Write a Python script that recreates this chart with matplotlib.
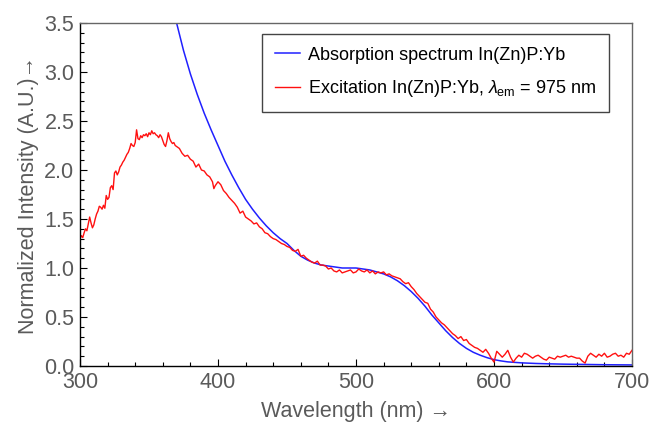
import matplotlib
matplotlib.use("Agg")
import matplotlib.pyplot as plt
from matplotlib.ticker import MultipleLocator, FormatStrFormatter

plt.rcParams['font.family'] = ['Liberation Sans', 'DejaVu Sans']
plt.rcParams['mathtext.fontset'] = 'custom'
plt.rcParams['mathtext.rm'] = 'Liberation Sans'
plt.rcParams['mathtext.it'] = 'Liberation Sans:italic'

# Absorption spectrum (blue)
abs_wl = [365, 370, 375, 380, 385, 390, 395, 400, 405, 410, 415, 420, 425, 430, 435,
          440, 445, 450, 455, 460, 465, 470, 475, 480, 485, 490, 495, 500, 505, 510,
          515, 520, 525, 530, 535, 540, 545, 550, 555, 560, 565, 570, 575, 580, 585,
          590, 595, 600, 605, 610, 620, 630, 640, 650, 660, 670, 680, 690, 700]
abs_val = [3.80, 3.50, 3.22, 2.98, 2.77, 2.58, 2.41, 2.25, 2.09, 1.95, 1.82, 1.70, 1.60, 1.51, 1.43,
           1.36, 1.30, 1.25, 1.18, 1.12, 1.08, 1.05, 1.03, 1.02, 1.01, 1.00, 1.00, 1.00, 0.99, 0.98,
           0.96, 0.94, 0.91, 0.87, 0.82, 0.76, 0.69, 0.61, 0.52, 0.44, 0.36, 0.29, 0.23, 0.18, 0.14,
           0.11, 0.085, 0.065, 0.052, 0.042, 0.032, 0.026, 0.022, 0.019, 0.017, 0.015, 0.013, 0.012, 0.011]

# Excitation spectrum (red)
exc_wl = [300, 301, 302, 303, 304, 305, 306, 307, 308, 309, 310, 311, 312, 313, 314, 315, 316, 317, 318, 319,
          320, 321, 322, 323, 324, 325, 326, 327, 328, 329, 330, 331, 332, 333, 334, 335, 336, 337, 338, 339,
          340, 341, 342, 343, 344, 345, 346, 347, 348, 349, 350, 351, 352, 353, 354, 355, 356, 357, 358, 359,
          360, 361, 362, 363, 364, 365, 366, 367, 368, 369, 370, 372, 374, 376, 378, 380, 382, 384, 386, 388,
          390, 392, 394, 396, 397, 398, 400, 402, 404, 406, 408, 410, 412, 414, 416, 418, 420, 422, 424, 426,
          428, 430, 432, 434, 436, 438, 440, 442, 444, 446, 448, 450, 452, 454, 456, 458, 460, 462, 464, 466,
          468, 470, 472, 474, 476, 478, 480, 482, 484, 486, 488, 490, 492, 494, 496, 498, 500, 502, 504, 506,
          508, 510, 512, 514, 516, 518, 520, 522, 524, 526, 528, 530, 532, 534, 536, 538, 540, 542, 544, 546,
          548, 550, 552, 554, 556, 558, 560, 562, 564, 566, 568, 570, 572, 574, 576, 578, 580, 582, 584, 586,
          588, 590, 592, 594, 596, 598, 600, 602, 604, 606, 608, 610, 612, 614, 616, 618, 620, 622, 624, 626,
          628, 630, 632, 634, 636, 638, 640, 642, 644, 646, 648, 650, 652, 654, 656, 658, 660, 662, 664, 666,
          668, 670, 672, 674, 676, 678, 680, 682, 684, 686, 688, 690, 692, 694, 696, 698, 700]
exc_val = [1.30, 1.33, 1.31, 1.36, 1.40, 1.38, 1.45, 1.52, 1.46, 1.41, 1.44, 1.50, 1.55, 1.58, 1.63, 1.62, 1.60, 1.64, 1.61, 1.74,
           1.70, 1.72, 1.82, 1.84, 1.80, 1.97, 1.99, 1.95, 1.98, 2.03, 2.05, 2.08, 2.10, 2.13, 2.16, 2.18, 2.22, 2.27, 2.25, 2.24,
           2.28, 2.41, 2.32, 2.31, 2.35, 2.33, 2.36, 2.35, 2.37, 2.34, 2.38, 2.36, 2.40, 2.37, 2.38, 2.36, 2.35, 2.33, 2.36, 2.34,
           2.30, 2.26, 2.24, 2.30, 2.38, 2.32, 2.29, 2.27, 2.28, 2.25, 2.24, 2.22, 2.17, 2.14, 2.15, 2.11, 2.09, 2.03, 2.06, 2.00,
           1.99, 1.95, 1.93, 1.88, 1.81, 1.84, 1.88, 1.85, 1.79, 1.76, 1.72, 1.69, 1.66, 1.62, 1.56, 1.58, 1.52, 1.50, 1.48, 1.45,
           1.46, 1.42, 1.40, 1.36, 1.35, 1.32, 1.30, 1.29, 1.27, 1.25, 1.24, 1.22, 1.21, 1.18, 1.17, 1.19, 1.12, 1.13, 1.10, 1.08,
           1.06, 1.05, 1.07, 1.03, 1.03, 1.02, 0.99, 1.00, 0.97, 0.96, 0.98, 0.95, 0.96, 0.97, 0.98, 0.95, 0.96, 0.99, 0.97, 0.96,
           0.98, 0.95, 0.97, 0.94, 0.96, 0.95, 0.96, 0.93, 0.94, 0.92, 0.91, 0.90, 0.89, 0.86, 0.84, 0.85, 0.81, 0.78, 0.74, 0.71,
           0.68, 0.65, 0.64, 0.58, 0.55, 0.50, 0.47, 0.44, 0.42, 0.39, 0.36, 0.33, 0.31, 0.28, 0.30, 0.26, 0.27, 0.23, 0.21, 0.19,
           0.18, 0.16, 0.14, 0.17, 0.13, 0.08, 0.04, 0.15, 0.12, 0.09, 0.12, 0.16, 0.09, 0.04, 0.08, 0.11, 0.09, 0.13, 0.12, 0.10,
           0.08, 0.10, 0.11, 0.09, 0.07, 0.06, 0.09, 0.08, 0.07, 0.10, 0.09, 0.10, 0.11, 0.09, 0.10, 0.09, 0.08, 0.08, 0.05, 0.03,
           0.10, 0.13, 0.11, 0.09, 0.12, 0.10, 0.13, 0.09, 0.10, 0.12, 0.13, 0.10, 0.11, 0.09, 0.13, 0.12, 0.16]

labels = ["Absorption spectrum In(Zn)P:Yb",
          r"Excitation In(Zn)P:Yb, $\lambda_{\rm em}$ = 975 nm"]

fig = plt.figure(figsize=(6.52, 4.30), dpi=100)
ax = fig.add_axes([80/652, 1-366/430, (632-80)/652, (366-23)/430])

ax.plot(abs_wl, abs_val, color='#2020ff', lw=1.1, label=labels[0])
ax.plot(exc_wl, exc_val, color='#ff1010', lw=1.0, label=labels[1])

ax.set_xlim(300, 700)
ax.set_ylim(0, 3.5)
ax.xaxis.set_major_locator(MultipleLocator(100))
ax.xaxis.set_minor_locator(MultipleLocator(20))
ax.yaxis.set_major_locator(MultipleLocator(0.5))
ax.yaxis.set_minor_locator(MultipleLocator(0.1))
ax.yaxis.set_major_formatter(FormatStrFormatter('%.1f'))

grey = '#5a5a5a'
ax.tick_params(which='both', direction='in', top=False, right=False,
               colors='black', labelcolor=grey, labelsize=15.5, width=0.8)
ax.tick_params(which='major', length=5, pad=4)
ax.tick_params(which='minor', length=3)
for s in ['left', 'bottom']:
    ax.spines[s].set_color('black')
    ax.spines[s].set_linewidth(1.0)
for s in ['top', 'right']:
    ax.spines[s].set_color('#666666')
    ax.spines[s].set_linewidth(1.0)

ax.set_xlabel("Wavelength (nm) →", fontsize=15.5, color=grey, labelpad=6)
ax.set_ylabel("Normalized Intensity (A.U.)→", fontsize=15.5, color=grey, labelpad=4)

leg = ax.legend(loc='upper left', bbox_to_anchor=(262/652, 1-34/430),
                bbox_transform=fig.transFigure, borderaxespad=0,
                fontsize=13, frameon=True, fancybox=False, framealpha=1,
                edgecolor='#444444', handlelength=1.4, handletextpad=0.45,
                labelspacing=0.8, borderpad=0.7)
leg.get_frame().set_linewidth(1.0)

fig.savefig("out.png", dpi=100)
